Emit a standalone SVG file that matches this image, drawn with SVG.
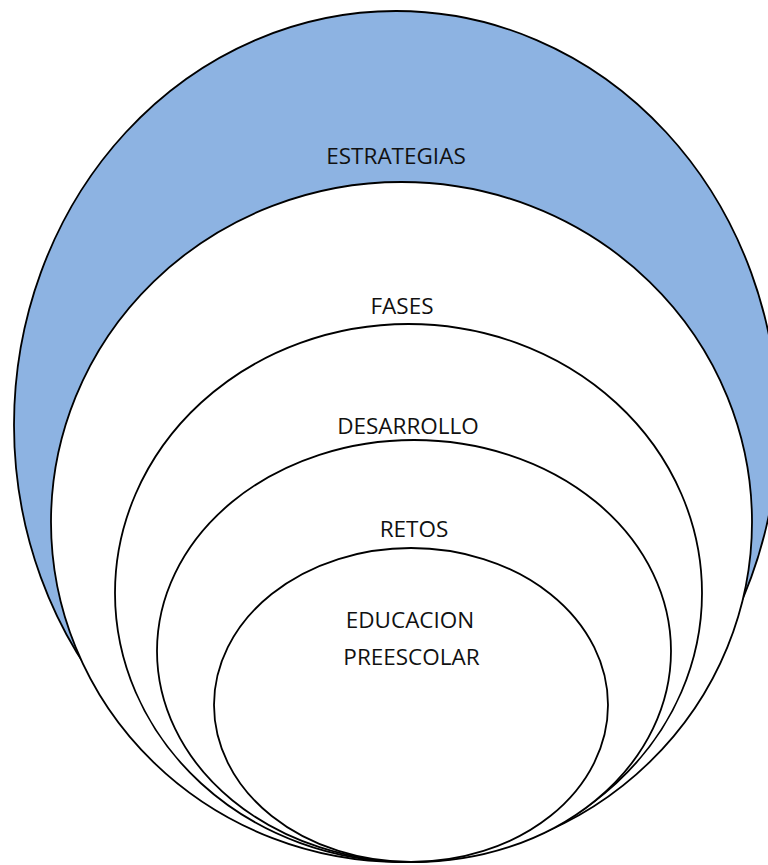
<svg xmlns="http://www.w3.org/2000/svg" width="768" height="865" viewBox="0 0 768 865">
<style>
.ring{stroke:#000;stroke-width:1.8;}
.lbl{font-family:"Open Sans","Liberation Sans",sans-serif;font-size:22.5px;fill:#111;text-anchor:middle;}
</style>
<rect width="768" height="865" fill="#fff"/>
<g id="estrategias">
<ellipse class="ring" cx="396" cy="425" rx="382" ry="414" fill="#8db3e2"/>
<text class="lbl" x="396" y="164">ESTRATEGIAS</text>
</g>
<g id="fases">
<ellipse class="ring" cx="401.5" cy="522" rx="350.5" ry="340" fill="#fff"/>
<text class="lbl" x="402" y="314">FASES</text>
</g>
<g id="desarrollo">
<ellipse class="ring" cx="408.5" cy="593" rx="293.5" ry="269" fill="#fff"/>
<text class="lbl" x="408" y="434">DESARROLLO</text>
</g>
<g id="retos">
<ellipse class="ring" cx="414" cy="651" rx="257" ry="211" fill="#fff"/>
<text class="lbl" x="414" y="537">RETOS</text>
</g>
<g id="educacion">
<ellipse class="ring" cx="411" cy="705" rx="197" ry="157" fill="#fff"/>
<text class="lbl" x="410" y="628">EDUCACION</text>
<text class="lbl" x="411.5" y="665">PREESCOLAR</text>
</g>
<g id="connectors"></g>
</svg>
